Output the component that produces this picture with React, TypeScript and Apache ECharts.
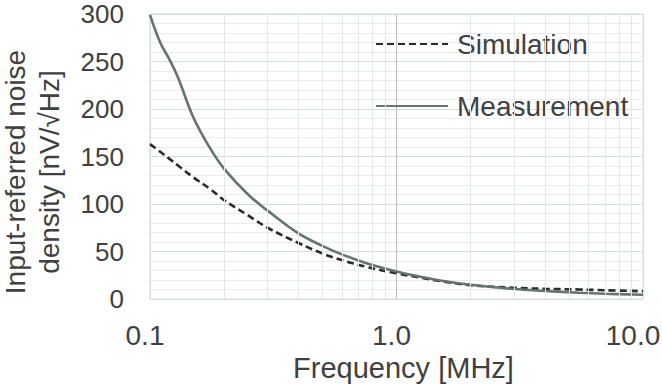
import React, { useEffect, useRef } from "react";
import * as echarts from "echarts";

// Frequency points in MHz (log axis)
const freqMHz = [0.1, 0.11, 0.12, 0.13, 0.15, 0.175, 0.2, 0.25, 0.3, 0.4, 0.5, 0.6, 0.75, 1.0, 1.25, 1.5, 2, 3, 4, 5.5, 7, 10];

// Input-referred noise density in nV/√Hz
const simulation = [163, 155, 147.5, 140.5, 128, 116, 104, 88, 75, 59, 48, 41, 34, 27, 22.5, 19, 14.5, 11.8, 10.7, 10, 9.2, 8.2];
const measurement = [299, 270, 252, 233, 191, 159, 137, 110, 93, 69, 56, 47, 38, 29, 23.5, 19.5, 15, 10.5, 8.5, 6.6, 5.5, 4.5];

// Minor vertical gridlines of the log axis
const minorFreqs = [0.2, 0.3, 0.4, 0.5, 0.6, 0.7, 0.8, 0.9, 2, 3, 4, 5, 6, 7, 8, 9];

// X tick labels for 0.1, 1, 10
const xTickLabels = ["0.1", "1.0", "10.0"];
const yTicks = { min: 0, max: 300, interval: 50 };

const FONT = "'Liberation Sans', Arial, Helvetica, sans-serif";
const TEXT = "#404040";

export default function App() {
  const ref = useRef<HTMLDivElement>(null);

  useEffect(() => {
    if (!ref.current) return;
    const chart = echarts.init(ref.current, undefined, { renderer: "svg" });
    const pairs = (ys: number[]) => freqMHz.map((f, i) => [f, ys[i]]);

    chart.setOption({
      animation: false,
      backgroundColor: "#ffffff",
      textStyle: { fontFamily: FONT },
      grid: {
        left: 150,
        right: 19,
        top: 14,
        bottom: 85,
        outerBoundsMode: "none",
        containLabel: false,
        show: true,
        borderColor: "#d6dde1",
        borderWidth: 1,
      },
      legend: {
        orient: "vertical",
        left: 370,
        top: 24,
        itemWidth: 72,
        itemHeight: 14,
        itemGap: 32,
        data: ["Simulation", "Measurement"],
        itemStyle: { opacity: 0 },
        textStyle: {
          fontFamily: FONT,
          fontSize: 28,
          color: TEXT,
          lineHeight: 30,
          padding: [0, 0, 0, 4],
        },
      },
      xAxis: {
        type: "log",
        logBase: 10,
        min: 0.1,
        max: 10,
        axisLine: { show: false },
        axisTick: { show: false },
        axisLabel: {
          fontFamily: FONT,
          fontSize: 28,
          color: TEXT,
          margin: 22,
          padding: [0, 10, 0, 0],
          formatter: (v: number) => {
            const idx = Math.round(Math.log10(v)) + 1;
            const label = xTickLabels[idx] ?? String(v);
            return idx === xTickLabels.length - 1 ? `{edge|${label}}` : label;
          },
          rich: {
            edge: {
              fontFamily: FONT,
              fontSize: 28,
              color: TEXT,
              padding: [0, 10, 0, 0],
            },
          },
        },
        splitLine: {
          show: true,
          lineStyle: { color: ["#d6dde1", "#b3c0c5", "#d6dde1"], width: 1 },
        },
        name: "Frequency [MHz]",
        nameLocation: "middle",
        nameGap: 46,
        nameTextStyle: { fontFamily: FONT, fontSize: 29, color: TEXT, padding: [0, 0, 0, 14] },
      },
      yAxis: {
        type: "value",
        min: yTicks.min,
        max: yTicks.max,
        interval: yTicks.interval,
        axisLine: { show: false },
        axisTick: { show: false },
        axisLabel: {
          fontFamily: FONT,
          fontSize: 26,
          lineHeight: 24,
          color: TEXT,
          margin: 26,
        },
        splitLine: { show: true, lineStyle: { color: "#d6dde1", width: 1 } },
        minorTick: { show: false, splitNumber: 5 },
        minorSplitLine: { show: true, lineStyle: { color: "#e9edf0", width: 1 } },
      },
      graphic: [
        {
          type: "text",
          x: 32,
          y: 172,
          rotation: Math.PI / 2,
          style: {
            text: "Input-referred noise\ndensity [nV/√Hz]",
            font: `28px ${FONT}`,
            fill: TEXT,
            align: "center",
            verticalAlign: "middle",
            lineHeight: 34,
          },
        },
      ],
      series: [
        {
          name: "minor-grid",
          type: "line",
          data: [],
          z: 1,
          silent: true,
          markLine: {
            silent: true,
            symbol: ["none", "none"],
            label: { show: false },
            lineStyle: { type: "solid", color: "#e3e8eb", width: 1 },
            data: minorFreqs.map((f) => ({ xAxis: f })),
          },
        },
        {
          name: "Simulation",
          type: "line",
          data: pairs(simulation),
          symbol: "none",
          smooth: 0.4,
          z: 3,
          lineStyle: { color: "#2b2b2b", width: 2.6, type: [7, 4] },
          itemStyle: { color: "#2b2b2b" },
        },
        {
          name: "Measurement",
          type: "line",
          data: pairs(measurement),
          symbol: "none",
          smooth: 0.4,
          z: 4,
          lineStyle: { color: "#66736f", width: 2.6 },
          itemStyle: { color: "#66736f" },
        },
      ],
    });

    return () => chart.dispose();
  }, []);

  return <div ref={ref} style={{ width: 662, height: 384, position: "absolute", left: 0, top: 0 }} />;
}
